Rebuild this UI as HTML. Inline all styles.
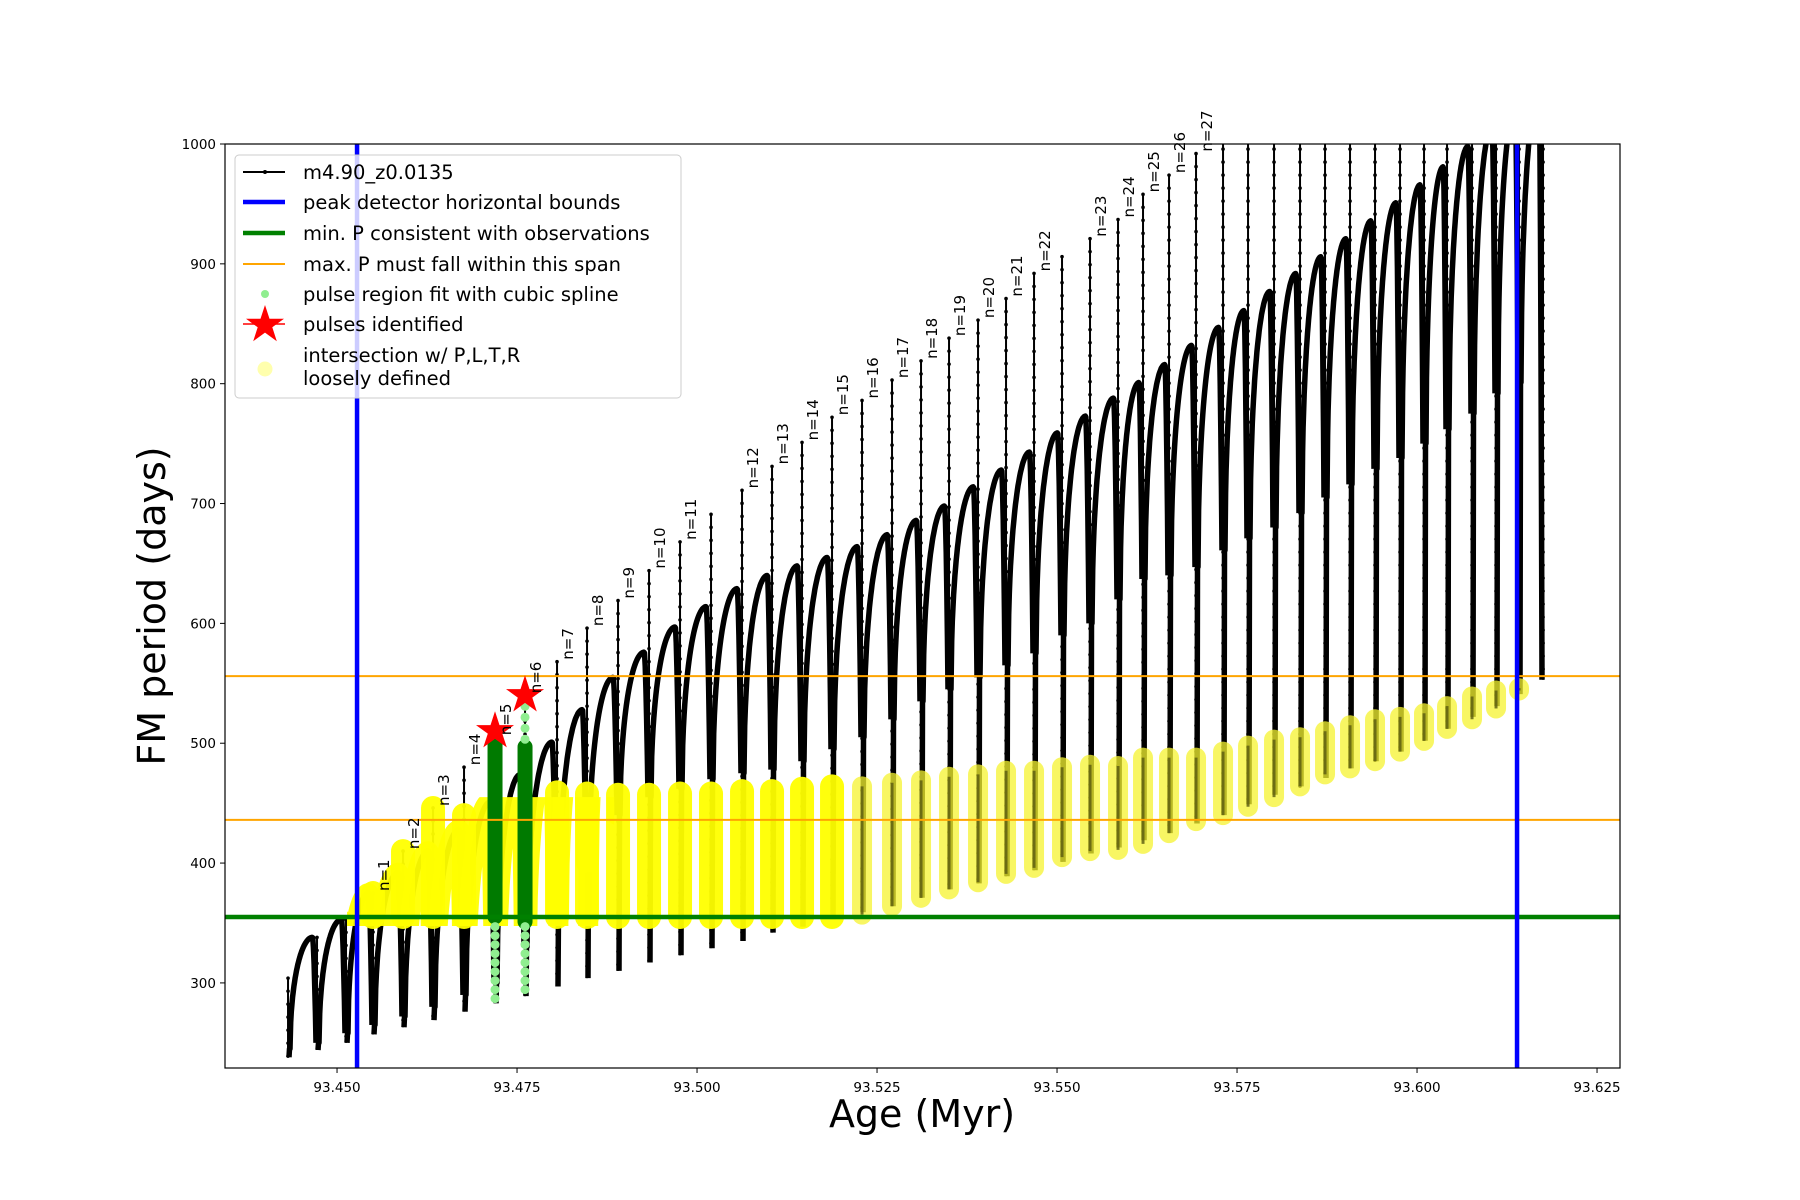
<!DOCTYPE html>
<html><head><meta charset="utf-8">
<style>
html,body{margin:0;padding:0;background:#fff;}
svg{display:block;font-family:"DejaVu Sans","Liberation Sans",sans-serif;}
</style></head>
<body>
<svg id="chart" width="1800" height="1200" viewBox="0 0 1800 1200" xmlns="http://www.w3.org/2000/svg">
<defs><clipPath id="axclip"><rect x="225" y="144" width="1395" height="924"/></clipPath></defs>
<rect x="0" y="0" width="1800" height="1200" fill="#fff"/>
<g id="plot" clip-path="url(#axclip)"></g>
<g id="over"></g>
<g id="axes"></g>
</svg>
<script>
// ---- data ----
const spikeAges = [93.443194,93.447222,93.451250,93.455000,93.459167,93.463333,93.467639,93.471944,93.476111,93.480556,93.484722,93.489028,93.493333,93.497639,93.501944,93.506250,93.510417,93.514583,93.518750,93.522917,93.527083,93.531111,93.535000,93.539028,93.542917,93.546806,93.550694,93.554583,93.558472,93.561944,93.565556,93.569306,93.573056,93.576528,93.580139,93.583750,93.587222,93.590694,93.594167,93.597639,93.600972,93.604167,93.607639,93.610972,93.614167,93.617500];
const spikeTops = [304,338,353,375,410,446,480,505,540,568,596,619,644,668,691,711,731,751,772,786,803,819,838,853,871,892,906,921,937,958,974,992,1050,1050,1050,1050,1050,1050,1050,1050,1050,1050,1050,1050,1050,1050];
const spikeDips = [238,244,250,257,263,269,276,283,289,297,304,310,317,323,329,335,342,347,353,359,364,371,378,383,389,394,401,408,413,419,425,433,440,449,457,464,471,479,485,493,502,512,522,531,541,553];
const arcStarts = [245,250,258,265,272,280,290,300,330,360,400,440,455,462,470,475,478,485,495,505,520,535,545,555,565,575,590,600,620,637,640,647,661,671,680,692,705,716,729,738,750,762,775,792,801];
const arcMaxes = [338,353,375,392,410,428,451,474,501,528,555,576,597,614,629,640,648,655,664,674,686,698,714,728,743,759,773,788,801,816,832,847,861,877,892,906,921,936,951,966,981,998,1015,1030,1045];
const pulseLabels = ["","","","n=1","n=2","n=3","n=4","n=5","n=6","n=7","n=8","n=9","n=10","n=11","","n=12","n=13","n=14","n=15","n=16","n=17","n=18","n=19","n=20","n=21","n=22","","n=23","n=24","n=25","n=26","n=27","","","","","","","","","","","","","",""];
const yellowLo = [null,null,null,355,355,355,355,null,null,355,355,355,355,355,355,355,355,355,355,357,364,371,378,384,391,396,405,410,411,416,425,435,440,447,455,464,474,479,485,493,502,512,520,529,544,null];
const yellowHi = [null,null,null,375,410,446,440,null,null,459,458,457,457,458,458,460,460,462,464,464,467,469,472,474,477,477,480,482,481,488,488,488,493,498,503,505,510,515,520,522,525,531,539,544,546,null];
const greenAges = [93.471944,93.476111];
const greenLo = [355,351];
const greenHi = [500,497];
const lightGreenLo = [284,292];
const lightGreenHi = [347,347];
const lightGreenTopLo = [null,501];
const lightGreenTopHi = [null,540];
const starAges = [93.471944,93.476111];
const starVals = [510,540];
const blueBounds = [93.45278,93.61389];
const minP = [355];
const maxPSpan = [436,556];
const xTicks = [93.450,93.475,93.500,93.525,93.550,93.575,93.600,93.625];
const xTickLabels = ["93.450","93.475","93.500","93.525","93.550","93.575","93.600","93.625"];
const yTicks = [300,400,500,600,700,800,900,1000];
const yTickLabels = ["300","400","500","600","700","800","900","1000"];

// ---- axes ----
const AX={l:225,r:1620,t:144,b:1068};
const XMIN=93.43444, XMAX=93.62819, YMIN=229, YMAX=1000;
function X(a){return AX.l+(a-XMIN)/(XMAX-XMIN)*(AX.r-AX.l);}
function Y(v){return AX.b-(v-YMIN)/(YMAX-YMIN)*(AX.b-AX.t);}
const NS="http://www.w3.org/2000/svg";
function mk(tag,attrs,parent){const e=document.createElementNS(NS,tag);for(const k in attrs)e.setAttribute(k,attrs[k]);parent.appendChild(e);return e;}
const plot=document.getElementById('plot'), over=document.getElementById('over'), axes=document.getElementById('axes');

// black series
const gBlack=mk('g',{},plot);


const arcPaths=[];
for(let i=0;i<spikeAges.length;i++){
  const x=X(spikeAges[i]);
  const lowTop = i<arcStarts.length? arcStarts[i] : spikeDips[i];
  // thin spike
  const sp=mk('line',{x1:x,y1:Y(spikeDips[i]),x2:x,y2:Y(spikeTops[i]),stroke:'#000','stroke-width':2},gBlack);
  
  
  const y0=Y(spikeTops[i]), y1=Y(spikeDips[i]);
  for(let yy=y0;yy<y1;yy+=13){
    const d=mk('circle',{cx:x,cy:yy,r:1.8,fill:'#000'},gBlack);
    
    
  }
  if(i<arcStarts.length){
    const xn=X(spikeAges[i+1]);
    const s=arcStarts[i], m=arcMaxes[i];
    const nextLow = (i+1<arcStarts.length)? arcStarts[i+1] : spikeDips[i+1];
    let d='M'+(x+1).toFixed(1)+','+Y(spikeDips[i]).toFixed(1)+' L'+(x+1.5).toFixed(1)+','+Y(s).toFixed(1);
    const N=40;
    for(let k=0;k<=N;k++){
      const t=k/N; let v;
      if(t<0.87){const u=t/0.87; v=s+(m-s)*Math.sqrt(1-(1-u)*(1-u));}
      else {const u=(t-0.87)/0.13; v=m-(m-nextLow)*Math.pow(u,1.6);}
      const xx=x+2+t*(xn-x-3);
      d+=' L'+xx.toFixed(1)+','+Y(v).toFixed(1);
    }
    const p=mk('path',{d:d,fill:'none',stroke:'#000','stroke-width':5.5,'stroke-linejoin':'round'},gBlack);
    
    
    arcPaths.push(d);
  }
}

// yellow intersection markers
const gY=mk('g',{},plot);


mk('clipPath',{id:'yclip'},gY);
const yc=document.getElementById('yclip');
mk('rect',{x:X(blueBounds[0])-10,y:Y(455),width:X(93.4885)-X(blueBounds[0])+10,height:Y(355)-Y(455)+9},yc);
const gYArc=mk('g',{'clip-path':'url(#yclip)'},gY);
for(let i=0;i<arcPaths.length;i++){
  if(spikeAges[i]>93.4875) break;
  const p=mk('path',{d:arcPaths[i],fill:'none',stroke:'#ffff00','stroke-width':20,'stroke-linecap':'round','stroke-linejoin':'round',opacity:0.95},gYArc);
  
  
}
for(let i=0;i<spikeAges.length;i++){
  if(yellowLo[i]===null) continue;
  const x=X(spikeAges[i]);
  const late=spikeAges[i]>93.522;
  const l=mk('line',{x1:x,y1:Y(yellowLo[i]),x2:x,y2:Y(yellowHi[i]),stroke:late?'#f6f430':'#ffff00','stroke-width':late?20:24,'stroke-linecap':'round',opacity:late?0.75:0.95},gY);
  
  
  if(late){
    const c=mk('line',{x1:x,y1:Y(yellowLo[i]),x2:x,y2:Y(yellowHi[i]),stroke:'#5a5a10','stroke-width':3,opacity:0.8},gY);
    
    
  }
}

// green spline regions
const gG=mk('g',{},plot);


for(let i=0;i<greenAges.length;i++){
  const x=X(greenAges[i]);
  const l=mk('line',{x1:x,y1:Y(greenLo[i]),x2:x,y2:Y(greenHi[i]),stroke:'#007a00','stroke-width':15,'stroke-linecap':'round'},gG);
  
  
  for(let yy=Y(lightGreenHi[i]);yy<=Y(lightGreenLo[i]);yy+=9){
    const c=mk('circle',{cx:x,cy:yy,r:4.5,fill:'#90ee90'},gG);
    
    
  }
  if(lightGreenTopLo[i]!==null){
    for(let yy=Y(lightGreenTopHi[i]);yy<=Y(lightGreenTopLo[i]);yy+=11){
      const c=mk('circle',{cx:x,cy:yy,r:4.5,fill:'#90ee90'},gG);
      
      
    }
  }
}

// reference lines
const gL=mk('g',{},plot);


maxPSpan.forEach(v=>{
  const l=mk('line',{x1:AX.l,x2:AX.r,y1:Y(v),y2:Y(v),stroke:'#ffa500','stroke-width':2},gL);
  
  
});
minP.forEach(v=>{
  const l=mk('line',{x1:AX.l,x2:AX.r,y1:Y(v),y2:Y(v),stroke:'#008000','stroke-width':4.5},gL);
  
  
});
blueBounds.forEach(a=>{
  const l=mk('line',{x1:X(a),x2:X(a),y1:AX.t,y2:AX.b,stroke:'#0000ff','stroke-width':4.5},gL);
  
  
});

// stars
function starPath(cx,cy,R){const r=R*0.382;let d='';for(let k=0;k<10;k++){const ang=-Math.PI/2+k*Math.PI/5;const rr=k%2?r:R;d+=(k?'L':'M')+(cx+rr*Math.cos(ang)).toFixed(1)+','+(cy+rr*Math.sin(ang)).toFixed(1);}return d+'Z';}
for(let i=0;i<starAges.length;i++){
  const s=mk('path',{d:starPath(X(starAges[i]),Y(starVals[i]),20),fill:'#ff0000'},plot);
  
  
}

// n labels (unclipped)
for(let i=0;i<spikeAges.length;i++){
  if(!pulseLabels[i]) continue;
  const x=X(spikeAges[i])+16, y=Y(spikeTops[i])-2;
  const t=mk('text',{x:x,y:y,transform:'rotate(-90 '+x+' '+y+')','font-size':15,fill:'#000'},over);
  t.textContent=pulseLabels[i];
  
  
}

// axes frame & ticks
const fr=mk('rect',{x:AX.l,y:AX.t,width:AX.r-AX.l,height:AX.b-AX.t,fill:'none',stroke:'#000','stroke-width':1.2},axes);


xTicks.forEach((v,i)=>{
  const x=X(v);
  const tk=mk('line',{x1:x,x2:x,y1:AX.b,y2:AX.b+5,stroke:'#000','stroke-width':1},axes);
  
  
  const t=mk('text',{x:x,y:AX.b+24,'font-size':13.5,'text-anchor':'middle',fill:'#000'},axes);
  t.textContent=xTickLabels[i];
  
  
});
yTicks.forEach((v,i)=>{
  const y=Y(v);
  const tk=mk('line',{x1:AX.l-5,x2:AX.l,y1:y,y2:y,stroke:'#000','stroke-width':1},axes);
  
  
  const t=mk('text',{x:AX.l-9,y:y+5,'font-size':13.5,'text-anchor':'end',fill:'#000'},axes);
  t.textContent=yTickLabels[i];
  
  
});
</script>
<svg width="0" height="0" style="position:absolute"></svg>
<div style="position:absolute;left:0;top:0;width:1800px;height:1200px;pointer-events:none;">
<svg width="1800" height="1200" style="position:absolute;left:0;top:0;font-family:'DejaVu Sans','Liberation Sans',sans-serif;">
  <text x="922" y="1127" font-size="38" text-anchor="middle" fill="#000">Age (Myr)</text>
  <text x="165" y="606" font-size="38" text-anchor="middle" fill="#000" transform="rotate(-90 165 606)">FM period (days)</text>
  <g>
    <rect x="235" y="155" width="446" height="243" rx="4" fill="#fff" fill-opacity="0.8" stroke="#cccccc" stroke-width="1"/>
    <g>
      <line x1="243" x2="285" y1="172" y2="172" stroke="#000" stroke-width="2"/><circle cx="265" cy="172" r="2" fill="#000"/>
      <text x="303" y="179" font-size="19.5">m4.90_z0.0135</text>
    </g>
    <g>
      <line x1="243" x2="285" y1="202" y2="202" stroke="#0000ff" stroke-width="4.5"/>
      <text x="303" y="209" font-size="19.5">peak detector horizontal bounds</text>
    </g>
    <g>
      <line x1="243" x2="285" y1="233" y2="233" stroke="#008000" stroke-width="4.5"/>
      <text x="303" y="240" font-size="19.5">min. P consistent with observations</text>
    </g>
    <g>
      <line x1="243" x2="285" y1="264" y2="264" stroke="#ffa500" stroke-width="2"/>
      <text x="303" y="271" font-size="19.5">max. P must fall within this span</text>
    </g>
    <g>
      <circle cx="265" cy="294" r="4" fill="#90ee90"/>
      <text x="303" y="301" font-size="19.5">pulse region fit with cubic spline</text>
    </g>
    <g>
      <path d="M265,305 L269.5,318.8 L284,318.8 L272.3,327.3 L276.8,341.2 L265,332.6 L253.2,341.2 L257.7,327.3 L246,318.8 L260.5,318.8Z" fill="#ff0000"/>
      <line x1="243" x2="285" y1="324" y2="324" stroke="#ff0000" stroke-width="1.5"/>
      <text x="303" y="331" font-size="19.5">pulses identified</text>
    </g>
    <g>
      <circle cx="265" cy="369" r="7.5" fill="#ffff99" opacity="0.8"/>
      <text x="303" y="362" font-size="19.5">intersection w/ P,L,T,R</text>
      <text x="303" y="385" font-size="19.5">loosely defined</text>
    </g>
  </g>
</svg>
</div>
</body></html>
